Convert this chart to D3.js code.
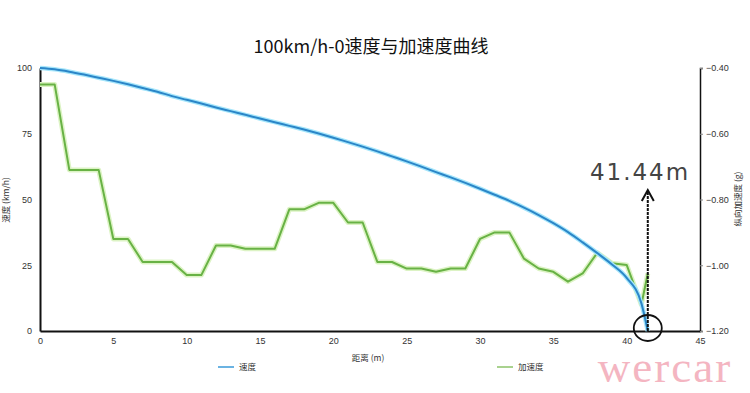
<!DOCTYPE html>
<html><head><meta charset="utf-8">
<script src="https://cdn.jsdelivr.net/npm/d3@7/dist/d3.min.js"></script>
<style>body{margin:0;background:#fff}svg{display:block}</style>
</head><body>
<svg id="c" width="750" height="393"></svg>
<script>
const title = "100km/h-0速度与加速度曲线";
const distance = [0,1,2,3,4,5,6,7,8,9,10,11,12,13,14,15,16,17,18,19,20,21,22,23,24,25,26,27,28,29,30,31,32,33,34,35,36,37,38,39,40,41,41.44];
const speed = [100,99.5,98.6,97.5,96.3,95.1,93.8,92.4,91,89.3,87.9,86.5,85,83.6,82.2,80.8,79.4,78,76.6,75.1,73.5,71.8,70.1,68.3,66.4,64.5,62.5,60.4,58.4,56.3,54.1,51.8,49.5,46.9,44.1,41,37.6,33.7,29.6,25.3,20.2,10.6,0];
const accel = [-0.45,-0.45,-0.71,-0.71,-0.71,-0.92,-0.92,-0.99,-0.99,-0.99,-1.03,-1.03,-0.94,-0.94,-0.95,-0.95,-0.95,-0.83,-0.83,-0.81,-0.81,-0.87,-0.87,-0.99,-0.99,-1.01,-1.01,-1.02,-1.01,-1.01,-0.92,-0.90,-0.90,-0.98,-1.01,-1.02,-1.05,-1.025,-0.962,-0.994,-0.999,-1.12,-1.025];
const xTicks = [0,5,10,15,20,25,30,35,40,45];
const leftTicks = [0,25,50,75,100];
const rightTicks = [-1.2,-1.0,-0.8,-0.6,-0.4];
const stopDistance = 41.44;
const stopLabel = "41.44m";
const seriesNames = ["速度","加速度"];

const svg = d3.select("#c");
const L=40,R=700,T=68,B=331;
const x = d3.scaleLinear().domain([0,45]).range([L,R]);
const yL = d3.scaleLinear().domain([0,100]).range([B,T]);
const yR = d3.scaleLinear().domain([-1.2,-0.4]).range([B,T]);
const font = "'Noto Sans CJK SC','Noto Sans',sans-serif";

svg.append("text").attr("x",371).attr("y",53).attr("text-anchor","middle")
  .attr("font-family",font).attr("font-size",18).attr("fill","#111").text(title);

// axes
const ax = svg.append("g").attr("transform",`translate(0,${B})`)
  .call(d3.axisBottom(x).tickValues(xTicks).tickSize(0).tickPadding(7));
ax.select(".domain").attr("stroke","#111").attr("stroke-width",2);
const al = svg.append("g").attr("transform",`translate(${L},0)`)
  .call(d3.axisLeft(yL).tickValues(leftTicks).tickSize(0).tickPadding(8));
al.select(".domain").attr("stroke","#111").attr("stroke-width",2);
const ar = svg.append("g").attr("transform",`translate(${R},0)`)
  .call(d3.axisRight(yR).tickValues(rightTicks).tickSize(3).tickPadding(3).tickFormat(d3.format(".2f")));
ar.select(".domain").attr("stroke","#111").attr("stroke-width",1.5);
ar.selectAll(".tick line").attr("stroke","#888");
svg.selectAll(".tick text").attr("font-family","'Liberation Sans',Arial,sans-serif").attr("font-size",9).attr("fill","#333");

svg.append("text").attr("transform","translate(9,200) rotate(-90)").attr("text-anchor","middle")
  .attr("font-family",font).attr("font-size",8.5).attr("fill","#333").text("速度 (km/h)");
svg.append("text").attr("transform","translate(741,199) rotate(-90)").attr("text-anchor","middle")
  .attr("font-family",font).attr("font-size",8.5).attr("fill","#333").text("纵向加速度 (g)");
svg.append("text").attr("x",368).attr("y",361).attr("text-anchor","middle")
  .attr("font-family",font).attr("font-size",8.5).attr("fill","#333").text("距离 (m)");

// lines
const idx = d3.range(distance.length);
const lineS = d3.line().x(i=>x(distance[i])).y(i=>yL(speed[i])).curve(d3.curveMonotoneX);
const lineA = d3.line().x(i=>x(distance[i])).y(i=>yR(accel[i]));
svg.append("path").attr("d",lineA(idx)).attr("fill","none").attr("stroke","#dcf3c4").attr("stroke-width",5).attr("stroke-linejoin","round");
svg.append("path").attr("d",lineA(idx)).attr("fill","none").attr("stroke","#68b245").attr("stroke-width",2).attr("stroke-linejoin","round");
svg.append("path").attr("d",lineS(idx)).attr("fill","none").attr("stroke","#a6e6fb").attr("stroke-width",4.5);
svg.append("path").attr("d",lineS(idx)).attr("fill","none").attr("stroke","#2b86c8").attr("stroke-width",2);

// legend
const lg = [[218,"#3a9ad8"],[497,"#8cc36a"]];
lg.forEach((p,i)=>{
  svg.append("line").attr("x1",p[0]).attr("x2",p[0]+16).attr("y1",367).attr("y2",367).attr("stroke",p[1]).attr("stroke-width",1.5);
  svg.append("text").attr("x",p[0]+21).attr("y",370).attr("font-family",font).attr("font-size",8.5).attr("fill","#333").text(seriesNames[i]);
});

// annotation
const sx = x(stopDistance);
svg.append("line").attr("x1",sx).attr("x2",sx).attr("y1",B).attr("y2",191).attr("stroke","#111").attr("stroke-width",2).attr("stroke-dasharray","3,1");
svg.append("path").attr("d",`M${sx-6},${201} L${sx},${190} L${sx+6},${201}`).attr("fill","none").attr("stroke","#111").attr("stroke-width",2);
svg.append("ellipse").attr("cx",sx).attr("cy",328).attr("rx",14).attr("ry",13).attr("fill","none").attr("stroke","#111").attr("stroke-width",1.8);
svg.append("text").attr("x",640).attr("y",180).attr("text-anchor","middle").attr("font-family","'DejaVu Sans',sans-serif")
  .attr("font-size",23).attr("letter-spacing",2).attr("fill","#444").text(stopLabel);

// watermark
svg.append("text").attr("x",665).attr("y",382).attr("text-anchor","middle").attr("font-family","'Liberation Serif','DejaVu Serif',serif")
  .attr("font-size",45).attr("letter-spacing",2).attr("fill","#f3aebb").attr("opacity",0.9).text("wercar");
</script>
</body></html>
